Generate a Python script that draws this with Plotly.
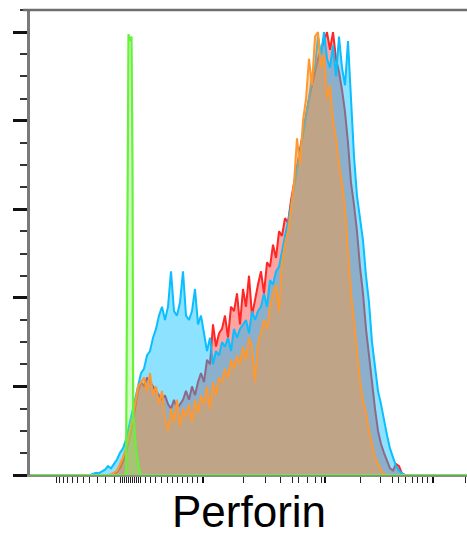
import numpy as np
import plotly.graph_objects as go

# Histogram bins on the display (biexponential) channel scale
bin_start = 60
bin_step = 3

blue_counts = [
    0, 0.3, 0.5, 0.4, 0.8, 1.2, 2.0, 1.5, 2.5, 3.5,
    5, 6, 8, 11, 14, 17, 20, 23, 24, 27,
    28, 31, 33, 36, 38, 35, 38, 46, 37, 36,
    39, 46, 36, 35, 37, 42, 34, 36, 32, 28,
    31, 25, 28, 27, 30, 29, 31, 28, 33, 31,
    33, 34, 35, 32, 37, 35, 37, 38, 41, 38,
    44, 43, 46, 47, 51, 54, 57, 61, 65, 68,
    72, 76, 80, 85, 90, 92, 99, 95, 100, 94,
    92, 97, 90, 99, 92, 88, 98, 84, 72, 63,
    58, 53, 45, 39, 30, 24, 19, 16, 12, 9,
    6, 4, 2, 1, 0.3, 0,
]

red_counts = [
    0, 0, 0, 0, 0, 0, 0, 0, 0.2, 0.6,
    1.5, 3, 5, 8, 11, 15, 19, 21, 20, 22,
    21, 20, 19, 18, 17, 18, 16, 15, 17, 15,
    16, 17, 19, 17, 20, 18, 21, 23, 21, 26,
    25, 34, 29, 32, 33, 36, 31, 38, 37, 41,
    34, 42, 38, 45, 36, 40, 43, 46, 41, 48,
    47, 52, 49, 55, 54, 58, 57, 62, 66, 70,
    73, 77, 81, 85, 88, 91, 94, 96, 98, 100,
    96, 100, 94, 91, 87, 82, 75, 66, 61, 55,
    47, 41, 33, 27, 20, 15, 10, 7, 5, 3,
    1.5, 1, 2.5, 2, 0.3, 0,
]

orange_counts = [
    0, 0, 0, 0, 0, 0, 0, 0.2, 0.5, 1,
    2.5, 4, 6, 9, 12, 16, 20, 21, 22, 19,
    23, 18, 20, 16, 19, 13, 10, 15, 12, 17,
    11, 15, 13, 16, 12, 17, 14, 18, 16, 20,
    15, 21, 18, 22, 21, 24, 22, 26, 24, 27,
    25, 29, 26, 31, 29, 21, 30, 32, 35, 33,
    38, 41, 43, 37, 48, 52, 55, 60, 66, 76,
    70, 80, 85, 94, 88, 99, 100, 92, 95, 85,
    88, 80, 76, 70, 66, 60, 50, 41, 35, 28,
    21, 17, 14, 10, 7, 4, 2.5, 1, 0.3, 0,
    0, 0, 0, 0, 0, 0,
]

# Unstained control: narrow peak near zero, baseline across the axis
green_channels = [0, 96, 97, 98.5, 100, 101.5, 102.5, 103.2, 106, 109, 111, 437]
green_counts = [0, 0, 40, 99.5, 98, 99, 70, 14, 6, 1.5, 0, 0]

# Axis tick positions on the display scale
x_major_ticks = [173, 295, 403]
x_minor_ticks = ([26, 29, 33, 37, 42, 47, 53, 59, 67, 75, 84]
                 + list(range(90, 111, 2))
                 + [115, 120, 125, 131, 137, 142, 147, 152, 157, 162, 167,
                    213, 235, 250, 262, 268, 277, 285, 291,
                    330, 350, 362, 368, 375, 382, 387, 392, 397, 435])

channels = bin_start + bin_step * np.arange(len(blue_counts))

fig = go.Figure()

series = [
    ("red", red_counts, "#FF2626", "rgba(255,0,0,0.36)"),
    ("blue", blue_counts, "#0ABEFF", "rgba(0,191,255,0.45)"),
    ("orange", orange_counts, "#FF982E", "rgba(255,150,50,0.45)"),
]
for name, counts, line_color, fill_color in series:
    fig.add_trace(go.Scatter(
        x=channels, y=counts, mode="lines", name=name,
        line=dict(color=line_color, width=2),
        fill="tozeroy", fillcolor=fill_color,
    ))

fig.add_trace(go.Scatter(
    x=green_channels, y=green_counts, mode="lines", name="control",
    line=dict(color="#66F23A", width=2.2),
    fill="tozeroy", fillcolor="rgba(120,255,80,0.35)",
))

fig.update_layout(
    width=467, height=538, autosize=False,
    margin=dict(l=30, r=0, t=10, b=63),
    plot_bgcolor="white", paper_bgcolor="white",
    showlegend=False,
    font=dict(family="Liberation Sans, Arial, sans-serif", color="black"),
    xaxis=dict(
        range=[0, 437], showgrid=False, zeroline=False,
        showline=True, linecolor="#8a8f86", linewidth=2,
        tickmode="array", tickvals=x_major_ticks, ticks="outside",
        ticklen=6, tickwidth=2, tickcolor="#111",
        showticklabels=False,
        minor=dict(tickmode="array", tickvals=x_minor_ticks, ticks="outside",
                   ticklen=6, tickwidth=1.3, tickcolor="#222"),
    ),
    yaxis=dict(
        range=[0, 105], showgrid=False, zeroline=False,
        showline=True, linecolor="#7a7a7a", linewidth=2.5,
        tick0=0, dtick=20, ticks="outside", ticklen=14, tickwidth=3,
        tickcolor="#111", showticklabels=False,
        minor=dict(dtick=5, ticks="outside", ticklen=7, tickwidth=2,
                   tickcolor="#333"),
    ),
    shapes=[dict(type="line", xref="paper", yref="paper",
                 x0=-0.016, x1=1, y0=1, y1=1,
                 line=dict(color="#6e6e6e", width=2.5))],
    annotations=[dict(text="Perforin", xref="paper", yref="paper",
                      x=0.5, y=-0.079, xanchor="center", yanchor="middle",
                      showarrow=False, font=dict(size=44, color="black"))],
)

fig.write_html("out.html")
